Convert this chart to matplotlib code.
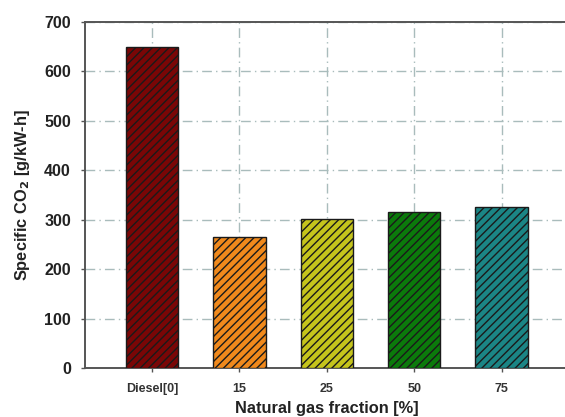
import matplotlib
matplotlib.use("Agg")
import matplotlib.pyplot as plt

categories = ["Diesel[0]", "15", "25", "50", "75"]
values = [650, 266, 301, 316, 326]
colors = ["#7a0606", "#f0891c", "#c5c41c", "#0b7a0b", "#1b8585"]
yticks = [0, 100, 200, 300, 400, 500, 600, 700]

plt.rcParams['font.family'] = ['Liberation Sans', 'DejaVu Sans']
plt.rcParams['hatch.color'] = '#1a1a1a'
plt.rcParams['hatch.linewidth'] = 1.0

fig = plt.figure(figsize=(5.65, 4.17), dpi=100)
ax = fig.add_axes([0.150, 0.1175, 0.857, 0.8297])

x = list(range(len(categories)))
ax.bar(x, values, width=0.6, color=colors, edgecolor='#1a1a1a',
       linewidth=1.0, hatch='////', zorder=3)

ax.set_xlim(-0.77, 4.77)
ax.set_ylim(0, 700)
ax.set_yticks(yticks)
ax.set_xticks(x)
ax.set_xticklabels(categories, fontsize=9, fontweight='bold', color='#333333')
ax.set_yticklabels([str(t) for t in yticks], fontsize=11.5, fontweight='bold', color='#222222')

ax.grid(True, linestyle=(0, (7, 3, 1, 3)), color='#a9bcbc', linewidth=1.0, zorder=0)
ax.set_axisbelow(True)

for s in ['left', 'bottom', 'top']:
    ax.spines[s].set_color('#555555')
    ax.spines[s].set_linewidth(1.4)
ax.spines['right'].set_visible(False)
ax.tick_params(axis='both', direction='out', length=3, width=1, color='#555555')
ax.tick_params(axis='x', pad=8)
ax.tick_params(axis='y', pad=7)

ax.set_xlabel("Natural gas fraction [%]", fontsize=11.8, fontweight='bold', color='#222222', labelpad=4)
ax.set_ylabel("Specific CO$_\\mathbf{2}$ [g/kW-h]", fontsize=11.8, fontweight='bold', color='#222222', labelpad=9)

fig.savefig("out.png", dpi=100)
